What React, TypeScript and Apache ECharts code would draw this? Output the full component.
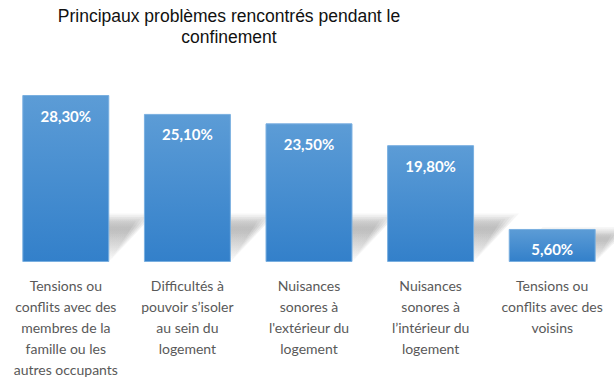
import React, { useEffect, useRef } from "react";
import * as echarts from "echarts";

const categories = [
  "Tensions ou\nconflits avec des\nmembres de la\nfamille ou les\nautres occupants",
  "Difficultés à\npouvoir s’isoler\nau sein du\nlogement",
  "Nuisances\nsonores à\nl'extérieur du\nlogement",
  "Nuisances\nsonores à\nl’intérieur du\nlogement",
  "Tensions ou\nconflits avec des\nvoisins",
];
const values = [28.3, 25.1, 23.5, 19.8, 5.6];
const titleText = "Principaux problèmes rencontrés pendant le\nconfinement";

export default function App() {
  const ref = useRef<HTMLDivElement>(null);
  useEffect(() => {
    if (!ref.current) return;
    const chart = echarts.init(ref.current, undefined, { renderer: "svg" });
    chart.setOption({
      animation: false,
      backgroundColor: "#ffffff",
      graphic: [
        {
          type: "text",
          x: 229,
          y: 5,
          style: {
            text: titleText,
            textAlign: "center",
            textVerticalAlign: "top",
            fontFamily: "Liberation Sans",
            fontSize: 17.5,
            lineHeight: 21,
            fill: "#111111",
          },
        },
      ],
      grid: { left: 5, right: 1, top: 85, bottom: 120, containLabel: false },
      xAxis: {
        type: "category",
        data: categories,
        axisLine: { show: false },
        axisTick: { show: false },
        axisLabel: {
          interval: 0,
          margin: 13,
          color: "#595959",
          fontFamily: "Lato",
          fontSize: 14,
          lineHeight: 21,
          align: "center",
        },
      },
      yAxis: {
        type: "value",
        min: 0,
        max: 30,
        show: false,
        splitLine: { show: false },
      },
      series: [
        {
          type: "custom",
          z: 1,
          silent: true,
          encode: { x: 0, y: 1 },
          data: values.map((v, i) => [i, v]),
          renderItem: (params: any, api: any) => {
            const i = api.value(0);
            const v = api.value(1);
            const base = api.coord([i, 0]);
            const top = api.coord([i, v]);
            const band = api.size([1, 0])[0];
            const w = band * 0.715;
            const xL = base[0] - w / 2;
            const xR = base[0] + w / 2;
            const h0 = Math.min(45, (base[1] - top[1]) * 0.95);
            const offsets = [-6, -3, 0, 3, 6];
            const children = offsets.map((k) => {
              const h = Math.max(2, h0 + k * 0.6);
              const dx = h * 0.8 + k;
              return {
                type: "polygon",
                shape: {
                  points: [
                    [xL, base[1]],
                    [xR, base[1]],
                    [xR + dx, base[1] - h],
                    [xL + dx, base[1] - h],
                  ],
                },
                style: {
                  fill: {
                    type: "linear",
                    x: 0,
                    y: 0,
                    x2: 0,
                    y2: 1,
                    colorStops: [
                      { offset: 0, color: "rgba(0,0,0,0.03)" },
                      { offset: 0.25, color: "rgba(0,0,0,0.06)" },
                      { offset: 0.7, color: "rgba(0,0,0,0.025)" },
                      { offset: 1, color: "rgba(0,0,0,0.0)" },
                    ],
                  },
                },
              };
            });
            return { type: "group", children };
          },
        },
        {
          type: "bar",
          z: 2,
          data: values,
          barWidth: "71.5%",
          itemStyle: {
            color: {
              type: "linear",
              x: 0,
              y: 0,
              x2: 0,
              y2: 1,
              colorStops: [
                { offset: 0, color: "#5c9cd6" },
                { offset: 1, color: "#3380ca" },
              ],
            },
            borderColor: "#79afe0",
            borderWidth: 1,
          },
          label: {
            show: true,
            position: "insideTop",
            distance: 13,
            color: "#ffffff",
            fontFamily: "Lato",
            fontWeight: "bold",
            fontSize: 15,
            formatter: (p: any) => p.value.toFixed(2).replace(".", ",") + "%",
          },
        },
      ],
    });
    return () => chart.dispose();
  }, []);
  return <div ref={ref} style={{ width: 614, height: 382, position: "absolute", left: 0, top: 0 }} />;
}
